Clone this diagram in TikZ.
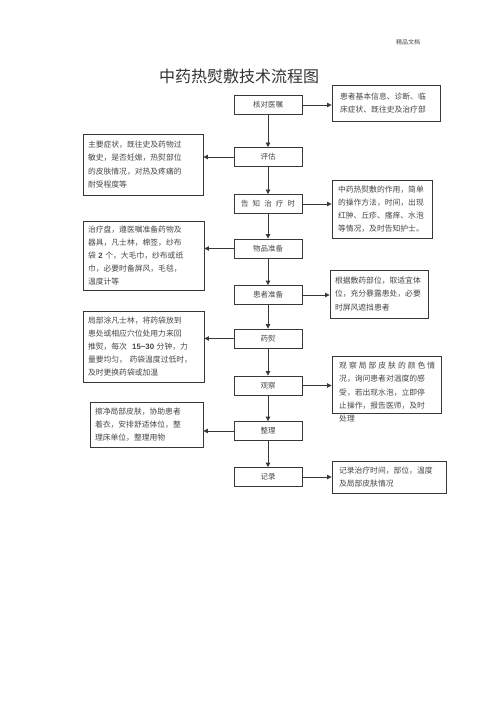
\documentclass[tikz,border=0pt]{standalone}
\usepackage{fontspec}
\setmainfont{Noto Sans CJK SC}
\newfontfamily\numfont{Liberation Sans}
\usetikzlibrary{arrows.meta}
\definecolor{linec}{gray}{0.22}
\definecolor{txtc}{gray}{0.28}
\newcommand{\num}[1]{{\numfont\bfseries #1}}
\begin{document}
\begin{tikzpicture}[x=1pt,y=-1pt,
  ctr/.style={draw=linec, line width=0.8pt, minimum width=68pt, minimum height=19pt, inner sep=0pt, font=\fontsize{7.5}{9}\selectfont, text=txtc},
  sbox/.style={draw=linec, line width=0.9pt, inner sep=0pt, align=left, font=\fontsize{7.8}{13.2}\selectfont, text=txtc},
  plaintxt/.style={inner sep=0pt, align=left, font=\fontsize{7.8}{13.2}\selectfont, text=txtc},
  arr/.style={draw=linec, line width=0.8pt, -{Triangle[width=4.5pt,length=4.5pt]}}]
\useasboundingbox (0,0) rectangle (500,708);
\fill[white] (0,0) rectangle (500,708);

\node[font=\fontsize{6}{7}\selectfont, text=txtc] (hdr) at (408,42) {精品文档};
\node[font=\fontsize{16}{18}\selectfont, text=black!80] (title) at (239,76) {中药热熨敷技术流程图};

% centre column
\node[ctr] (c1) at (268,105) {核对医嘱};
\node[ctr] (c2) at (268,157) {评估};
\node[ctr] (c3) at (268,204) {\makebox[54pt][s]{告 知 治 疗 时}};
\node[ctr] (c4) at (268,248.5) {物品准备};
\node[ctr] (c5) at (268,295) {患者准备};
\node[ctr] (c6) at (268,338.5) {药熨};
\node[ctr] (c7) at (268,385.5) {观察};
\node[ctr] (c8) at (268,431) {整理};
\node[ctr] (c9) at (268,477) {记录};

% right boxes
\node[sbox, minimum width=108pt, minimum height=36pt, text width=92pt] (r1) at (386,103)
  {患者基本信息、诊断、临\\床症状、既往史及治疗部};
\node[sbox, minimum width=100pt, minimum height=58pt, text width=88pt] (r2) at (382,209)
  {中药热熨敷的作用，简单\\的操作方法，时间，出现\\红肿、丘疹、瘙痒、水泡\\等情况，及时告知护士。};
\node[sbox, minimum width=98pt, minimum height=48pt, text width=88pt] (r3) at (379,294)
  {根据敷药部位，取适宜体\\位，充分暴露患处，必要\\时屏风遮挡患者};
\node[draw=linec, line width=0.9pt, minimum width=109pt, minimum height=57pt, inner sep=0pt] (r4) at (386.5,384.5) {};
\node[plaintxt, anchor=north west] (r4t) at (339,362)
  {\makebox[96pt][s]{观 察 局 部 皮 肤 的 颜 色 情}\\况，询问患者对温度的感\\受，若出现水泡，立即停\\止操作，报告医师，及时\\处理};
\node[sbox, minimum width=114pt, minimum height=32pt, text width=100pt] (r5) at (389,477)
  {记录治疗时间，部位，温度\\及局部皮肤情况};

% left boxes
\node[sbox, minimum width=120pt, minimum height=61pt, text width=110pt] (l1) at (143,164.5)
  {主要症状，既往史及药物过\\敏史，是否妊娠，热熨部位\\的皮肤情况，对热及疼痛的\\耐受程度等};
\node[sbox, minimum width=121pt, minimum height=69pt, text width=111pt] (l2) at (143.5,255.5)
  {治疗盘，遵医嘱准备药物及\\器具，凡士林，棉签，纱布\\袋 \num{2} 个，大毛巾，纱布或纸\\巾，必要时备屏风，毛毯，\\温度计等};
\node[sbox, minimum width=121pt, minimum height=71pt, text width=111pt] (l3) at (143.5,346.5)
  {局部涂凡士林，将药袋放到\\患处或相应穴位处用力来回\\推熨，每次 \ \num{15\textasciitilde30} 分钟，力\\量要均匀， 药袋温度过低时，\\及时更换药袋或加温};
\node[sbox, minimum width=113pt, minimum height=45pt, text width=103pt] (l4) at (146.5,424.5)
  {擦净局部皮肤，协助患者\\着衣，安排舒适体位，整\\理床单位，整理用物};

% vertical arrows
\draw[arr] (c1) -- (c2);
\draw[arr] (c2) -- (c3);
\draw[arr] (c3) -- (c4);
\draw[arr] (c4) -- (c5);
\draw[arr] (c5) -- (c6);
\draw[arr] (c6) -- (c7);
\draw[arr] (c7) -- (c8);
\draw[arr] (c8) -- (c9);

% right arrows
\draw[arr] (c1.east) -- (c1.east -| r1.west);
\draw[arr] (c3.east) -- (c3.east -| r2.west);
\draw[arr] (c5.east) -- (c5.east -| r3.west);
\draw[arr] (c7.east) -- (c7.east -| r4.west);
\draw[arr] (c9.east) -- (c9.east -| r5.west);

% left arrows
\draw[arr] (c2.west) -- (c2.west -| l1.east);
\draw[arr] (c4.west) -- (c4.west -| l2.east);
\draw[arr] (c6.west) -- (c6.west -| l3.east);
\draw[arr] (c8.west) -- (c8.west -| l4.east);
\end{tikzpicture}
\end{document}
